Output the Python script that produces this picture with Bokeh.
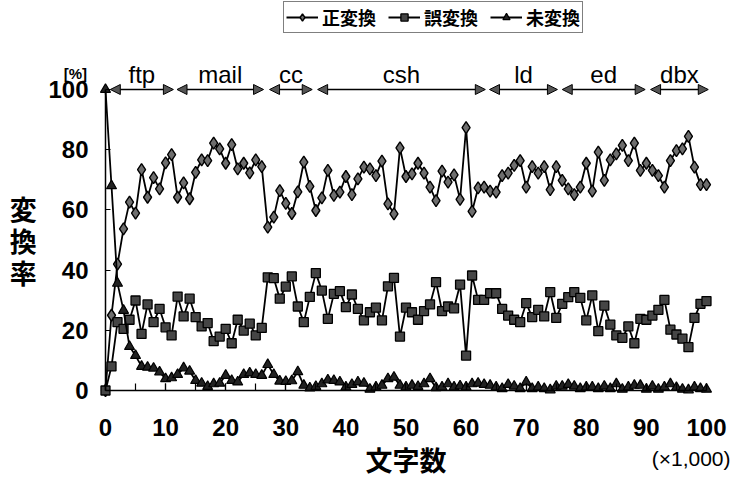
from bokeh.plotting import figure
from bokeh.models import (Range1d, SingleIntervalTicker, FixedTicker, Legend, LegendItem,
                          Arrow, NormalHead, Label, LabelSet, ColumnDataSource)
from bokeh.core.properties import value
from bokeh.embed import file_html
from bokeh.resources import INLINE

# ---------------- data ----------------
chars_k = list(range(0, 101))  # 文字数 (x1,000)

correct = [0, 25, 42, 53.7, 62.6, 58.9, 73.4, 64.2, 70.7, 67.0,
           75.6, 78.4, 64.2, 69.0, 63.7, 72.5, 76.6, 76.4, 82.2, 80.3,
           75.5, 81.7, 73.6, 75.5, 72.3, 76.6, 74.4, 54.3, 57.6, 66.4,
           62.2, 58.8, 66.0, 75.9, 67.8, 59.8, 64.0, 73.1, 64.8, 65.9,
           71.1, 65.1, 70.3, 74.2, 73.6, 71.4, 76.2, 62.0, 58.7, 80.6,
           71.1, 72.0, 75.5, 72.2, 67.6, 63.1, 72.9, 69.2, 71.6, 63.5,
           87.3, 59.5, 67.3, 67.6, 66.2, 65.9, 71.4, 72.2, 74.8, 76.4,
           67.6, 74.4, 72.2, 74.4, 66.7, 74.4, 69.8, 67.0, 65.1, 67.6,
           75.5, 66.2, 79.2, 69.8, 76.6, 78.6, 81.4, 76.4, 82.2, 73.1,
           75.5, 73.1, 71.4, 67.6, 76.4, 79.7, 80.3, 84.4, 74.2, 68.4,
           68.4]

error = [0, 8.0, 22.7, 20.5, 23.5, 29.9, 18.8, 28.6, 22.7, 27.1,
         21.0, 18.3, 31.2, 24.6, 30.5, 24.4, 21.3, 22.4, 16.4, 17.9,
         20.5, 15.7, 23.5, 19.9, 22.2, 18.3, 20.8, 37.6, 37.3, 30.5,
         34.5, 37.9, 27.9, 22.7, 31.1, 39.0, 33.2, 23.8, 32.1, 33.0,
         27.7, 31.9, 27.1, 23.3, 26.0, 27.5, 23.3, 34.6, 37.4, 17.9,
         27.5, 26.0, 23.5, 26.4, 28.6, 36.0, 26.4, 27.9, 27.3, 35.2,
         11.6, 38.2, 30.1, 30.1, 32.3, 32.3, 27.1, 24.9, 23.5, 22.7,
         29.0, 24.4, 26.8, 24.6, 32.7, 24.1, 28.8, 31.0, 32.7, 30.8,
         23.3, 31.6, 19.7, 28.2, 21.9, 18.3, 17.5, 21.3, 15.7, 23.8,
         23.5, 24.9, 26.8, 30.1, 20.2, 18.6, 17.2, 14.4, 24.1, 28.8,
         29.7]

unconverted = [100, 68, 35.6, 26.6, 14.6, 11.6, 8.0, 7.7, 7.4, 6.1,
               3.9, 4.2, 5.3, 7.5, 6.4, 3.3, 2.4, 1.3, 2.2, 2.4,
               5.0, 3.3, 2.8, 5.3, 5.8, 5.3, 5.0, 8.6, 5.3, 3.1,
               3.0, 3.2, 6.2, 1.7, 0.8, 1.3, 2.2, 3.5, 3.3, 2.8,
               1.1, 2.0, 2.8, 2.4, 0.4, 1.1, 1.7, 3.9, 4.4, 1.7,
               1.1, 1.7, 1.3, 2.2, 3.9, 0.9, 1.1, 2.2, 1.1, 1.5,
               1.1, 2.2, 2.4, 2.0, 1.7, 1.1, 0.6, 2.0, 1.4, 0.6,
               2.8, 0.6, 1.1, 0.6, 0.2, 1.4, 1.4, 2.0, 1.4, 0.6,
               1.1, 1.1, 0.6, 1.4, 0.6, 2.2, 0.4, 1.1, 1.7, 1.7,
               0.4, 1.4, 0.4, 1.1, 2.2, 1.0, 0.4, 0.2, 1.1, 0.6,
               0.4]

series_names = ["正変換", "誤変換", "未変換"]

seg_names = ["ftp", "mail", "cc", "csh", "ld", "ed", "dbx"]
seg_start = [0.8, 11.9, 27.3, 35.3, 63.9, 76.0, 90.7]
seg_end = [11.3, 26.3, 34.4, 63.2, 75.2, 89.8, 100.3]
seg_level = [100] * len(seg_names)

y_ticks = [0, 20, 40, 60, 80, 100]

# ---------------- figure ----------------
NUM_FONT = "Liberation Sans"
JP_FONT = "Noto Sans CJK JP"

W, H = 732, 478
p = figure(width=W, height=H,
           x_range=Range1d(-17.47, 104.33), y_range=Range1d(-29.24, 129.57),
           output_backend="svg", toolbar_location=None, title=None,
           min_border_left=0, min_border_right=0,
           min_border_top=0, min_border_bottom=0)
p.outline_line_color = None
p.xgrid.grid_line_color = None
p.ygrid.grid_line_color = None
p.background_fill_color = "white"
p.border_fill_color = "white"

# x axis
xa = p.xaxis[0]
xa.fixed_location = 0
xa.bounds = (0, 100)
xa.ticker = SingleIntervalTicker(interval=10, num_minor_ticks=2)
xa.axis_line_color = "black"
xa.axis_line_width = 1.5
xa.major_tick_in = 7
xa.major_tick_out = 0
xa.minor_tick_in = 7
xa.minor_tick_out = 0
xa.major_tick_line_color = "black"
xa.minor_tick_line_color = "black"
xa.major_tick_line_width = 1.2
xa.minor_tick_line_width = 1.2
xa.major_label_text_font = NUM_FONT
xa.major_label_text_font_size = "24px"
xa.major_label_text_font_style = "bold"
xa.major_label_text_color = "black"
xa.major_label_standoff = 29
xa.axis_label = "文字数"
xa.axis_label_text_font = JP_FONT
xa.axis_label_text_font_size = "27px"
xa.axis_label_text_font_style = "bold"
xa.axis_label_text_color = "black"
xa.axis_label_standoff = 0

# y axis
ya = p.yaxis[0]
ya.fixed_location = 0
ya.bounds = (0, 100)
ya.ticker = FixedTicker(ticks=y_ticks, minor_ticks=[])
ya.axis_line_color = "black"
ya.axis_line_width = 1.5
ya.major_tick_in = 5
ya.major_tick_out = 0
ya.minor_tick_in = 0
ya.minor_tick_out = 0
ya.major_tick_line_color = "black"
ya.major_tick_line_width = 1.2
ya.major_label_text_font = NUM_FONT
ya.major_label_text_font_size = "24px"
ya.major_label_text_font_style = "bold"
ya.major_label_text_color = "black"
ya.major_label_standoff = 17

# series
src = ColumnDataSource(dict(x=chars_k, c=correct, e=error, u=unconverted))

l1 = p.line("x", "c", source=src, line_color="black", line_width=1.8)
s1 = p.scatter("x", "c", source=src, marker="diamond", size=12,
               fill_color="#6e6e6e", line_color="black", line_width=1.4)
l2 = p.line("x", "e", source=src, line_color="black", line_width=1.8)
s2 = p.scatter("x", "e", source=src, marker="square", size=9,
               fill_color="#454545", line_color="black", line_width=1.3)
l3 = p.line("x", "u", source=src, line_color="black", line_width=1.8)
s3 = p.scatter("x", "u", source=src, marker="triangle", size=10,
               fill_color="#222222", line_color="black", line_width=1.2)

# segment arrows and labels
seg_mid = [(a + b) / 2 for a, b in zip(seg_start, seg_end)]
seg_src = ColumnDataSource(dict(x0=seg_start, x1=seg_end, y=seg_level,
                                mid=seg_mid, name=seg_names))
p.add_layout(Arrow(start=NormalHead(size=10, fill_color="#555555", line_color="black", line_width=1),
                   end=NormalHead(size=10, fill_color="#555555", line_color="black", line_width=1),
                   x_start="x0", y_start="y", x_end="x1", y_end="y",
                   source=seg_src, line_color="black", line_width=1.5))
p.add_layout(LabelSet(x="mid", y="y", text="name", source=seg_src,
                      text_align="center", text_baseline="alphabetic", y_offset=7,
                      text_font=value(NUM_FONT), text_font_size="24px",
                      text_color="black"))

# y-axis title (stacked vertical characters) and unit labels
for ch, yy in zip("変換率", [60.5, 49.8, 39.2]):
    p.add_layout(Label(x=-13.7, y=yy, text=ch, text_align="center", text_baseline="middle",
                       text_font=JP_FONT, text_font_size="27px", text_font_style="bold",
                       text_color="black"))
p.add_layout(Label(x=-5.0, y=105.3, text="[%]", text_align="center", text_baseline="middle",
                   text_font=NUM_FONT, text_font_size="15px", text_font_style="bold",
                   text_color="black"))
p.add_layout(Label(x=104.0, y=-22.5, text="(×1,000)", text_align="right", text_baseline="middle",
                   text_font=NUM_FONT, text_font_size="21px", text_color="black"))

# legend
legend = Legend(items=[LegendItem(label=series_names[0], renderers=[l1, s1]),
                       LegendItem(label=series_names[1], renderers=[l2, s2]),
                       LegendItem(label=series_names[2], renderers=[l3, s3])],
                orientation="horizontal", location=(283, 445), margin=0,
                padding=2, spacing=12, glyph_width=32, glyph_height=18, label_standoff=4,
                label_text_font=JP_FONT, label_text_font_size="18px",
                label_text_font_style="bold", label_text_color="black",
                border_line_color="black", border_line_width=1.5,
                background_fill_color="white", background_fill_alpha=1)
p.add_layout(legend)

open("out.html", "w").write(file_html(p, INLINE))
